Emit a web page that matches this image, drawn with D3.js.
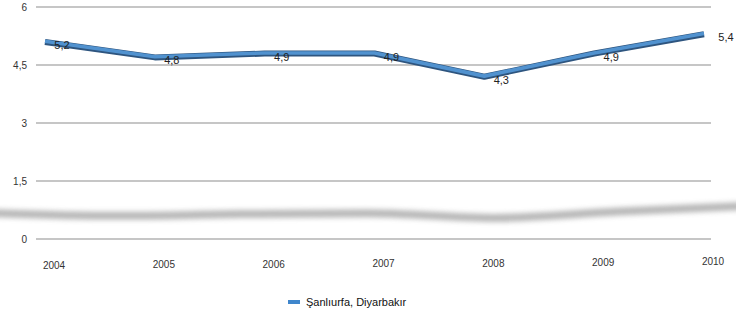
<!DOCTYPE html>
<html>
<head>
<meta charset="utf-8">
<script src="https://cdn.jsdelivr.net/npm/d3@7"></script>
<style>
  body { margin: 0; background: #fff; }
  svg { display: block; font-family: "Liberation Sans", Arial, sans-serif; }
</style>
</head>
<body>
<svg id="chart" width="736" height="315"></svg>
<script>
// Keynote-style 3D line chart
const years = ["2004", "2005", "2006", "2007", "2008", "2009", "2010"];
const values = [5.2, 4.8, 4.9, 4.9, 4.3, 4.9, 5.4];
const valueLabels = ["5,2", "4,8", "4,9", "4,9", "4,3", "4,9", "5,4"];
const yTicks = [0, 1.5, 3, 4.5, 6];
const yTickLabels = ["0", "1,5", "3", "4,5", "6"];
const seriesName = "Şanlıurfa, Diyarbakır";

const width = 736;
const height = 315;
const svg = d3.select("#chart");

const x = d3.scalePoint().domain(years).range([45, 704]);
const y = d3.scaleLinear().domain([0, 6]).range([239, 7]);

// gridlines
svg.append("g")
    .selectAll("line")
    .data(yTicks)
    .join("line")
    .attr("x1", 36)
    .attr("x2", 711)
    .attr("y1", d => y(d))
    .attr("y2", d => y(d))
    .attr("stroke", "#b3b3b3")
    .attr("stroke-width", 1.3);

svg.append("g")
    .selectAll("text")
    .data(yTicks)
    .join("text")
    .attr("x", 27)
    .attr("y", d => y(d) + 3.5)
    .attr("text-anchor", "end")
    .attr("font-size", 10)
    .attr("fill", "#333")
    .text((d, i) => yTickLabels[i]);

// x labels
svg.append("g")
    .selectAll("text")
    .data(years)
    .join("text")
    .attr("x", d => x(d) + 9)
    .attr("y", (d, i) => 269 - i * 0.6)
    .attr("text-anchor", "middle")
    .attr("font-size", 10)
    .attr("fill", "#333")
    .text(d => d);

// blurred floor shadow
const defs = svg.append("defs");
defs.append("filter")
    .attr("id", "blur")
    .attr("x", "-10%").attr("y", "-300%")
    .attr("width", "120%").attr("height", "700%")
    .append("feGaussianBlur")
    .attr("stdDeviation", 2.8);

const sx = d3.scalePoint().domain(years).range([-10, 745]);
const sy = d3.scaleLinear().domain([4.3, 5.4]).range([217, 206.7]);
const shadowLine = d3.line()
    .x(d => sx(d.year))
    .y((d, i) => sy(d.v) + 4.4 - i * 0.86)
    .curve(d3.curveMonotoneX);
const data = years.map((yr, i) => ({ year: yr, v: values[i] }));
svg.append("path")
    .datum(data)
    .attr("d", shadowLine)
    .attr("fill", "none")
    .attr("stroke", "#a6a6a6")
    .attr("stroke-width", 8)
    .attr("filter", "url(#blur)")
    .attr("opacity", 0.8);

// ribbon line
const line = d3.line()
    .x(d => x(d.year))
    .y(d => y(d.v) + 4);
svg.append("path")
    .datum(data)
    .attr("d", line)
    .attr("fill", "none")
    .attr("stroke", "#2e557f")
    .attr("stroke-width", 6)
    .attr("stroke-linejoin", "round");
svg.append("path")
    .datum(data)
    .attr("d", line)
    .attr("fill", "none")
    .attr("stroke", "#5192cf")
    .attr("stroke-width", 3.6)
    .attr("stroke-linejoin", "round")
    .attr("transform", "translate(0,-0.6)");

// value labels
svg.append("g")
    .selectAll("text")
    .data(data)
    .join("text")
    .attr("x", (d, i) => x(d.year) + (i === data.length - 1 ? 22 : 17))
    .attr("y", d => y(d.v) + 11)
    .attr("text-anchor", "middle")
    .attr("font-size", 11)
    .attr("fill", "#222")
    .text((d, i) => valueLabels[i]);

// legend
const legend = svg.append("g").attr("transform", "translate(288,302)");
legend.append("rect")
    .attr("x", 0).attr("y", -2)
    .attr("width", 12).attr("height", 4)
    .attr("fill", "#3f86cc");
legend.append("text")
    .attr("x", 18)
    .attr("y", 4)
    .attr("font-size", 11)
    .attr("fill", "#111")
    .text(seriesName);
</script>
</body>
</html>
